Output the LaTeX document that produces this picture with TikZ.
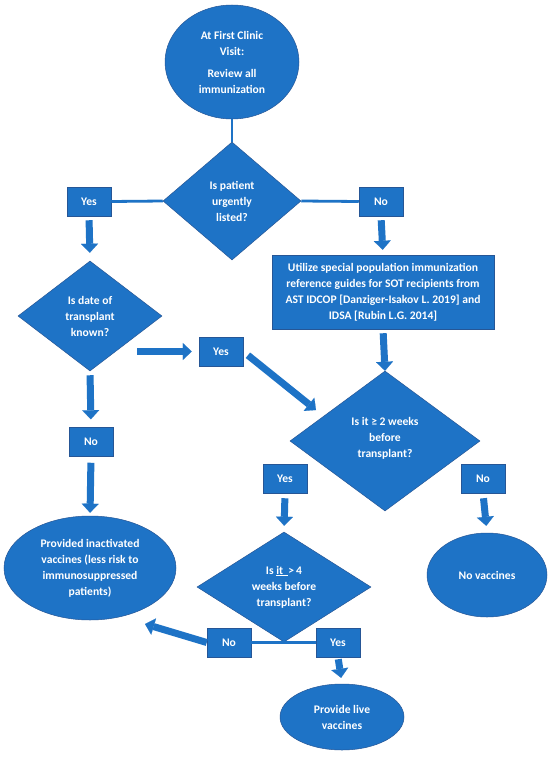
\documentclass[tikz,border=0pt]{standalone}
\usepackage{fontspec}
\setmainfont{Carlito}
\usetikzlibrary{shapes.geometric,arrows.meta,backgrounds}
\definecolor{cblue}{RGB}{30,115,198}
\definecolor{cedge}{RGB}{38,86,150}
\begin{document}
\begin{tikzpicture}[x=1pt,y=-1pt,
  every node/.style={font=\fontsize{11.6}{16}\selectfont\bfseries, text=white, align=center, inner sep=0pt},
  shp/.style={fill=cblue, draw=cedge, line width=0.5pt},
  oval/.style={shp, ellipse},
  dia/.style={shp, diamond},
  lbox/.style={shp, rectangle, minimum width=44pt, minimum height=29pt},
  conn/.style={draw=cblue, line width=2.8pt},
  blk/.style={draw=cblue, line width=7pt, -{Triangle[length=9pt,width=17pt,line width=0.1pt]}},
]
\useasboundingbox (0,0) rectangle (550,757);
\fill[white] (0,0) rectangle (550,757);

\node[oval, minimum width=134pt, minimum height=114pt] (visit) at (232,62) {At First Clinic\\Visit:\\[6pt]Review all\\immunization};
\node[dia, minimum width=138pt, minimum height=118pt, aspect=1.17] (urgent) at (232,201) {Is patient\\urgently\\listed?};
\node[lbox] (yes1) at (89,201.5) {Yes};
\node[lbox] (no1) at (381,201.5) {No};
\node[dia, minimum width=144pt, minimum height=110pt, aspect=1.3] (date) at (90,316) {Is date of\\transplant\\known?};
\node[lbox] (yes2) at (221,351.5) {Yes};
\node[lbox] (no2) at (91,442) {No};
\node[oval, minimum width=172pt, minimum height=104pt] (inact) at (90,568) {Provided inactivated\\vaccines (less risk to\\immunosuppressed\\patients)};
\node[shp, minimum width=222pt, minimum height=74pt] (util) at (383,292) {Utilize special population immunization\\reference guides for SOT recipients from\\AST IDCOP [Danziger-Isakov L. 2019] and\\IDSA [Rubin L.G. 2014]};
\node[dia, minimum width=190pt, minimum height=140pt, aspect=1.36] (two) at (385,441) {Is it ≥ 2 weeks\\before\\transplant?\\[-8pt]};
\node[lbox] (yes3) at (285,478.5) {Yes};
\node[lbox] (no3) at (483,478.5) {No};
\node[oval, minimum width=120pt, minimum height=84pt] (novac) at (487,575) {No vaccines};
\node[dia, minimum width=174pt, minimum height=110pt, aspect=1.58] (four) at (284,587) {Is \underline{it\ \ }>\,4\\weeks before\\transplant?};
\node[lbox] (no4) at (229,642.5) {No};
\node[lbox] (yes4) at (338,642.5) {Yes};
\node[oval, minimum width=124pt, minimum height=66pt] (live) at (342,717) {Provide live\\vaccines};

\begin{pgfonlayer}{background}
\draw[conn] (yes3.east) -- (no3.west);
\end{pgfonlayer}

\draw[conn] (visit.south) -- (urgent.north);
\draw[conn] (urgent.west) -- (yes1.east);
\draw[conn] (urgent.east) -- (no1.west);
\draw[conn] (no4.east) -- (yes4.west);

\coordinate (dstart) at (137,351.5);
\coordinate (twin) at (316,410);
\coordinate (inin) at (145,624);

\draw[blk, shorten <=4pt, shorten >=8pt] (yes1.south) -- (date.north);
\draw[blk, shorten <=4pt, shorten >=5pt] (no1.south) -- (util.north);
\draw[blk, shorten >=7pt] (dstart) -- (yes2.west);
\draw[blk, shorten <=4pt, shorten >=8pt] (date.south) -- (no2.north);
\draw[blk, shorten <=6pt, shorten >=3pt] (no2.south) -- (inact.north);
\draw[blk, shorten <=4pt] (util.south) -- (two.north);
\draw[blk, shorten <=6pt] (yes2.east) -- (twin);
\draw[blk, shorten <=5pt, shorten >=6pt] (yes3.south) -- (four.north);
\draw[blk, shorten <=5pt, shorten >=7pt] (no3.south) -- (novac.north);
\draw[blk] (no4.west) -- (inin);
\draw[blk, shorten <=2pt, shorten >=6pt] (yes4.south) -- (live.north);
\end{tikzpicture}
\end{document}
